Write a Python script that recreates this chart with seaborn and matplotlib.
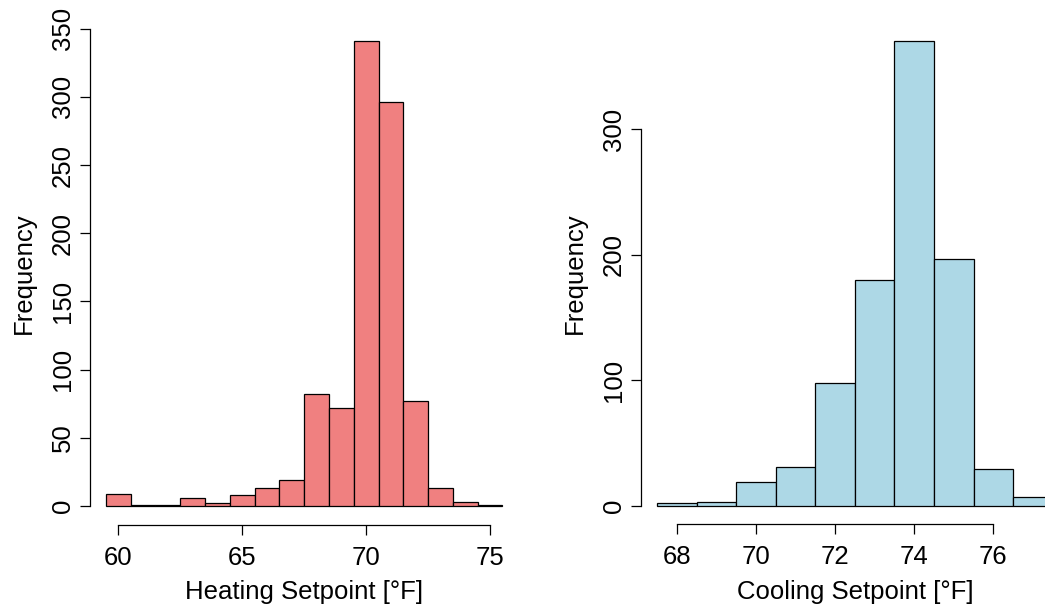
import numpy as np
import pandas as pd
import matplotlib
matplotlib.use("Agg")
import matplotlib.pyplot as plt
import seaborn as sns

# Heating setpoint histogram (bins of width 1 centred on integers)
heat_centers = [60, 61, 62, 63, 64, 65, 66, 67, 68, 69, 70, 71, 72, 73, 74, 75]
heat_counts = [9, 1, 1, 6, 2, 8, 13, 19, 82, 72, 341, 296, 77, 13, 3, 1]
heat_xticks = [60, 65, 70, 75]
heat_yticks = [0, 50, 100, 150, 200, 250, 300, 350]

# Cooling setpoint histogram
cool_centers = [68, 69, 70, 71, 72, 73, 74, 75, 76, 77]
cool_counts = [2, 3, 19, 31, 98, 180, 370, 197, 29, 7]
cool_xticks = [68, 70, 72, 74, 76]
cool_yticks = [0, 100, 200, 300]

sns.set_style("white")
plt.rcParams["font.family"] = ["Liberation Sans", "DejaVu Sans"]
plt.rcParams["font.size"] = 18.5
plt.rcParams["text.color"] = "black"
plt.rcParams["axes.labelcolor"] = "black"

FS = 18.5
W, H = 1045, 612
fig = plt.figure(figsize=(W / 100, H / 100), dpi=100)


def px_axes(x0, x1, y0, y1):
    return fig.add_axes([x0 / W, 1 - y1 / H, (x1 - x0) / W, (y1 - y0) / H])


def draw(ax, centers, counts, color, xticks, yticks, xlabel, ax_px):
    centers = np.asarray(centers, float)
    counts = np.asarray(counts, float)
    lo, hi = centers[0] - 0.5, centers[-1] + 0.5
    df = pd.DataFrame({"x": centers, "w": counts})
    sns.histplot(data=df, x="x", weights="w", binwidth=1, binrange=(lo, hi),
                 color=color, edgecolor="black", linewidth=0.9, alpha=1, ax=ax)
    rng = hi - lo
    ax.set_xlim(lo - 0.04 * rng, hi + 0.04 * rng)
    ymax = counts.max()
    ax.set_ylim(-0.04 * ymax, 1.04 * ymax)
    for s in ["top", "right"]:
        ax.spines[s].set_visible(False)
    for s in ["left", "bottom"]:
        ax.spines[s].set_color("black")
        ax.spines[s].set_linewidth(0.9)
    ax.spines["bottom"].set_bounds(xticks[0], xticks[-1])
    ax.spines["left"].set_bounds(yticks[0], yticks[-1])
    ax.set_xticks(xticks)
    ax.set_yticks(yticks)
    ax.tick_params(axis="both", direction="out", length=7.2, width=0.9,
                   color="black", labelcolor="black", labelsize=FS,
                   left=True, bottom=True)
    ax.tick_params(axis="x", pad=8.0)
    ax.tick_params(axis="y", pad=3.6)
    for lab in ax.get_yticklabels():
        lab.set_rotation(90)
        lab.set_va("center")
        lab.set_ha("right")
    x0, x1, y0, y1 = ax_px
    wpx, hpx = x1 - x0, y1 - y0
    ax.set_xlabel(xlabel, fontsize=FS, va="baseline", ha="center", color="black")
    ax.xaxis.set_label_coords(0.5, (y1 - 599) / hpx)
    ax.set_ylabel("Frequency", fontsize=FS, va="center", ha="center", color="black")
    ax.yaxis.set_label_coords(-66 / wpx, 0.5)
    ax.grid(False)


left_px = (90, 518.3, 22.3, 524.6)
right_px = (641.1, 1068.6, 22.9, 524.3)
ax1 = px_axes(*left_px)
ax2 = px_axes(*right_px)

draw(ax1, heat_centers, heat_counts, "#F08080", heat_xticks, heat_yticks,
     "Heating Setpoint [°F]", left_px)
draw(ax2, cool_centers, cool_counts, "#ADD8E6", cool_xticks, cool_yticks,
     "Cooling Setpoint [°F]", right_px)

fig.savefig("out.png", dpi=100)
